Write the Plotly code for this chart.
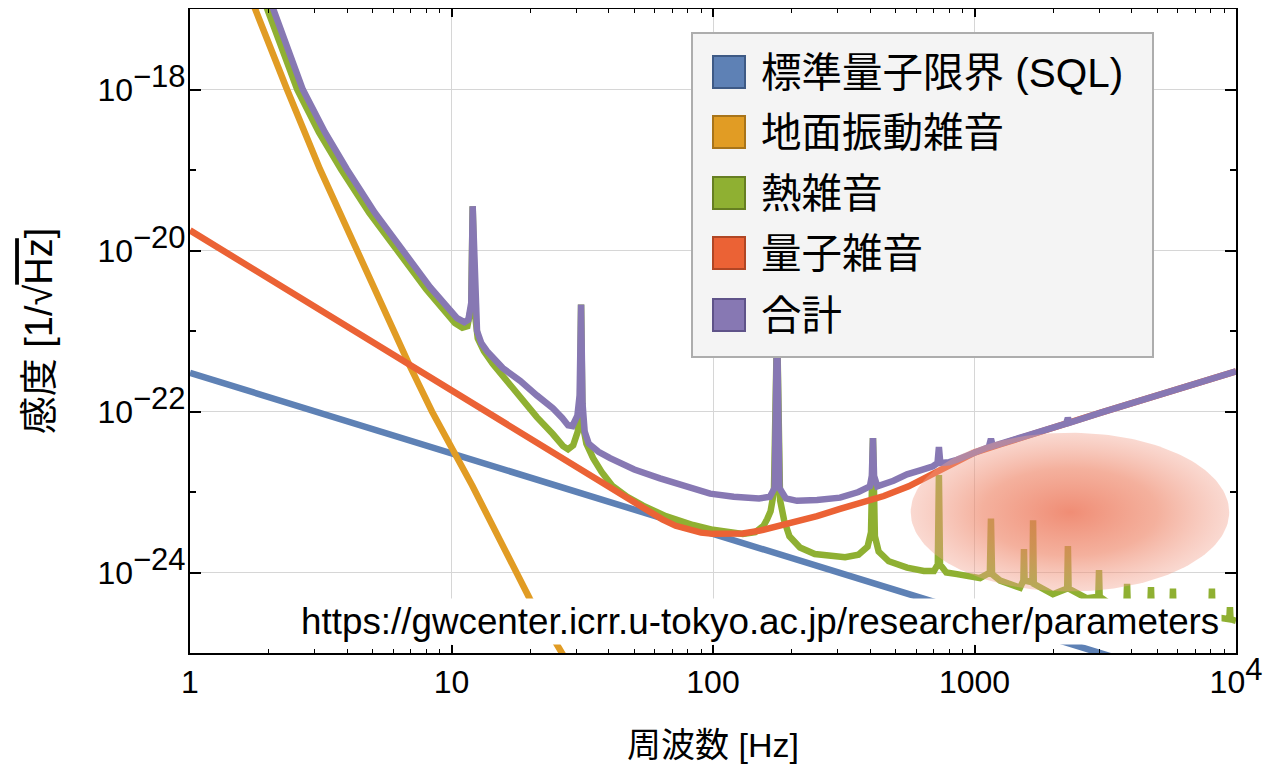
import numpy as np
import plotly.graph_objects as go

# ---------------- data ----------------
# Standard quantum limit (SQL)
sql_freq = [1, 10000]
sql_log10 = [-21.52, -25.52]

# Ground (seismic) vibration noise
seismic_freq = [1.5, 1.77, 2.35, 3.14, 4.35, 6.94, 8.42, 12.0, 19.95, 26.7, 30]
seismic_log10 = [-16.4, -17.0, -18.0, -18.99, -20.01, -21.44, -22.0, -22.92, -24.33, -25.0, -25.3]

# Thermal noise
thermal_freq = [1.8, 1.97, 2.25, 2.57, 3.11, 3.78, 4.84, 6.19, 8.0, 10.3, 11.0, 11.5, 11.9, 12.05, 12.3,
                12.6, 13.3, 14.4, 16.2, 18.3, 21.2, 24.4, 26.7, 27.9, 29.2, 30.4, 31.0, 31.3, 31.7,
                32.8, 34.8, 37.5, 41.1, 47, 54, 66, 83.8, 100, 113, 130, 145, 156, 161, 166, 171,
                175.8, 180.5, 187, 196, 215, 245, 280, 320, 360, 390, 402, 409, 416, 430, 470,
                552, 640, 700, 724, 731, 738, 780, 857, 1050, 1145, 1156, 1167, 1253, 1493,
                1538, 1546, 1554, 1665, 1675, 1685, 1995, 2262, 2276, 2290, 2692, 2975, 2993,
                3010, 3296, 3810, 3832, 3855, 4700, 4730, 4760, 5710, 5740, 5770, 8040, 8090,
                8140, 9430, 9480, 9530, 10000]
thermal_log10 = [-16.65, -17.0, -17.54, -18.0, -18.53, -18.99, -19.53, -20.01, -20.48, -20.90, -20.96, -20.94, -20.7, -19.45, -20.8,
                 -21.09, -21.25, -21.41, -21.62, -21.83, -22.07, -22.28, -22.43, -22.47, -22.42, -22.25, -22.0, -20.67, -22.15,
                 -22.40, -22.58, -22.75, -22.92, -23.06, -23.17, -23.30, -23.41, -23.47, -23.50, -23.52, -23.50, -23.42, -23.34, -23.24, -23.0,
                 -20.9, -23.1, -23.35, -23.55, -23.69, -23.77, -23.80, -23.81, -23.78, -23.68, -23.5, -22.33, -23.55, -23.74, -23.86,
                 -23.94, -23.98, -23.98, -23.9, -22.79, -23.9, -24.0, -24.02, -24.07, -24.0, -23.33, -24.02, -24.10, -24.19,
                 -24.1, -23.71, -24.1, -24.12, -23.35, -24.14, -24.27, -24.2, -23.67, -24.2, -24.32, -24.3, -23.97,
                 -24.3, -24.39, -24.4, -24.14, -24.4, -24.45, -24.18, -24.45, -24.48, -24.20, -24.48, -24.55, -24.20,
                 -24.55, -24.58, -24.43, -24.58, -24.60]

# Quantum noise
quantum_freq = [1, 10, 20, 30, 40, 48, 56, 64, 72, 80, 90, 100, 115, 130, 151, 175, 200,
                250, 306, 370, 450, 560, 719, 850, 1000, 1250, 1588, 2240, 3000, 10000]
quantum_log10 = [-19.75, -21.75, -22.35, -22.70, -22.95, -23.11, -23.24, -23.34, -23.42, -23.47, -23.505, -23.52,
                 -23.525, -23.515, -23.48, -23.43, -23.38, -23.30, -23.21, -23.13, -23.05, -22.93, -22.75, -22.62,
                 -22.51, -22.41, -22.30, -22.15, -22.02, -21.50]

# Total
total_freq = [1.9, 2.08, 2.37, 2.70, 3.28, 3.98, 5.09, 6.52, 8.28, 10.5, 11.2, 11.6, 11.9, 12.05, 12.3,
              12.52, 13.0, 13.67, 15.7, 18.3, 21.2, 24.4, 26.5, 27.9, 29.0, 30.3, 30.9, 31.3, 31.7,
              32.3, 33.5, 36.5, 40.4, 50, 62.7, 78, 97.5, 120, 150, 165, 172, 175.8, 179.5, 190,
              209.5, 250, 306, 360, 398, 405, 409, 413, 425, 490, 552, 620, 694, 722, 731, 740,
              800, 857, 1000, 1135, 1156, 1175, 1588, 2240, 2276, 2310, 3000, 10000]
total_log10 = [-16.65, -17.0, -17.54, -18.0, -18.53, -18.99, -19.53, -20.01, -20.455, -20.84, -20.89, -20.86, -20.65, -19.45, -20.75,
               -21.0, -21.15, -21.25, -21.46, -21.62, -21.80, -21.96, -22.08, -22.17, -22.18, -22.05, -21.8, -20.67, -21.9,
               -22.25, -22.40, -22.50, -22.58, -22.72, -22.83, -22.93, -23.02, -23.06, -23.08, -23.06, -22.95, -20.9, -22.95, -23.08,
               -23.11, -23.10, -23.07, -23.0, -22.93, -22.8, -22.33, -22.8, -22.93, -22.86, -22.78, -22.73, -22.68, -22.64, -22.44, -22.64,
               -22.63, -22.60, -22.50, -22.44, -22.34, -22.43, -22.30, -22.15, -22.08, -22.14, -22.02, -21.50]

series_names = ["標準量子限界 (SQL)", "地面振動雑音", "熱雑音", "量子雑音", "合計"]
series_colors = ["#5E81B5", "#E19C24", "#8FB032", "#EB6235", "#8778B3"]
swatch_borders = ["#3E5A85", "#A8741A", "#667E22", "#B04624", "#5F5389"]

SUP = '<sup><span style="font-size:31px">{}</span></sup>'
x_tickvals = [1, 10, 100, 1000, 10000]
x_ticktext = ["1", "10", "100", "1000", "10" + SUP.format("4")]
y_tickvals = [1e-24, 1e-22, 1e-20, 1e-18]
y_ticktext = ["10" + SUP.format("−24"), "10" + SUP.format("−22"),
              "10" + SUP.format("−20"), "10" + SUP.format("−18")]
y_minorvals = [1e-25, 1e-23, 1e-21, 1e-19, 1e-17]
x_minorvals = [m * 10 ** d for d in range(4) for m in range(2, 10)]

source_text = "https://gwcenter.icrr.u-tokyo.ac.jp/researcher/parameters"

# highlighted region (ellipse): centre and half-axes in log10 units
ell_cx, ell_cy = 3.365, -23.25
ell_rx, ell_ry = 0.609, 0.986

FONT = "Liberation Sans, Arial, Noto Sans CJK JP, sans-serif"

# ---------------- layout geometry ----------------
# The page body has an 8 px margin, so the figure is shifted to match.
OFF = 8
W, H = 1281 - OFF, 764 - OFF
PLOT_L, PLOT_R, PLOT_T, PLOT_B = 190, 1236, 9, 653   # on-screen plot box
L, R = PLOT_L - OFF, W - (PLOT_R - OFF)
T, B = PLOT_T - OFF, H - (PLOT_B - OFF)
PW, PH = PLOT_R - PLOT_L, PLOT_B - PLOT_T


def px_x(px):
    return (px - PLOT_L) / PW


def px_y(py):
    return (PLOT_B - py) / PH


fig = go.Figure()

series = [
    (sql_freq, sql_log10),
    (seismic_freq, seismic_log10),
    (thermal_freq, thermal_log10),
    (quantum_freq, quantum_log10),
    (total_freq, total_log10),
]
for (fx, ly), name, col in zip(series, series_names, series_colors):
    fig.add_trace(go.Scatter(
        x=fx, y=[10 ** v for v in ly], mode="lines", name=name,
        line=dict(color=col, width=6.5), showlegend=False, hoverinfo="skip"))

# gradient ellipse highlight
t = np.linspace(0, 2 * np.pi, 181)
fig.add_trace(go.Scatter(
    x=10 ** (ell_cx + ell_rx * np.cos(t)), y=10 ** (ell_cy + ell_ry * np.sin(t)),
    mode="lines", fill="toself", line=dict(width=0),
    fillgradient=dict(type="radial", colorscale=[
        [0.0, "rgba(236,112,82,0.80)"],
        [0.55, "rgba(238,132,102,0.64)"],
        [1.0, "rgba(242,160,140,0.40)"]]),
    showlegend=False, hoverinfo="skip"))

shapes = []
annotations = []

# legend drawn as a box with square swatches
shapes.append(dict(type="rect", xref="paper", yref="paper",
                   x0=px_x(692), x1=px_x(1153), y0=px_y(357), y1=px_y(33),
                   fillcolor="#F4F4F4", line=dict(color="#ADADAD", width=2), layer="above"))
row_y = [72, 132, 193, 253, 315]
for name, col, bcol, yc in zip(series_names, series_colors, swatch_borders, row_y):
    shapes.append(dict(type="rect", xref="paper", yref="paper",
                       x0=px_x(713), x1=px_x(745), y0=px_y(yc + 16), y1=px_y(yc - 16),
                       fillcolor=col, line=dict(color=bcol, width=2), layer="above"))
    annotations.append(dict(xref="paper", yref="paper", x=px_x(759), y=px_y(yc + 1),
                            xanchor="left", yanchor="middle", text=name, showarrow=False,
                            font=dict(size=40.5, family=FONT, color="black")))

# source URL with white box
annotations.append(dict(xref="paper", yref="paper", x=px_x(1222), y=px_y(598),
                        xanchor="right", yanchor="top", text=source_text, showarrow=False,
                        bgcolor="white", borderpad=2,
                        font=dict(size=36.8, family=FONT, color="black")))

fig.update_layout(
    width=W, height=H,
    margin=dict(l=L, r=R, t=T, b=B, autoexpand=False),
    plot_bgcolor="white", paper_bgcolor="white",
    font=dict(family=FONT, color="black", size=32),
    showlegend=False,
    shapes=shapes, annotations=annotations,
)

fig.update_xaxes(
    type="log", range=[0, 4], automargin=False,
    tickvals=x_tickvals, ticktext=x_ticktext,
    ticks="inside", ticklen=8, tickwidth=1.5, tickcolor="black",
    showline=True, linecolor="black", linewidth=2, mirror="allticks",
    showgrid=True, gridcolor="#D6D6D6", gridwidth=1, zeroline=False,
    minor=dict(tickvals=x_minorvals, ticks="inside", ticklen=4, tickwidth=1.2,
               tickcolor="black", showgrid=False),
    tickfont=dict(size=32, family=FONT),
    title=dict(text="周波数 [Hz]", font=dict(size=34, family=FONT), standoff=40),
)
fig.update_yaxes(
    type="log", range=[-25, -17], automargin=False,
    tickvals=y_tickvals, ticktext=y_ticktext,
    ticks="inside", ticklen=11, tickwidth=1.5, tickcolor="black",
    showline=True, linecolor="black", linewidth=2, mirror="allticks",
    showgrid=True, gridcolor="#D6D6D6", gridwidth=1, zeroline=False,
    minor=dict(tickvals=y_minorvals, ticks="inside", ticklen=6, tickwidth=1.5,
               tickcolor="black", showgrid=False),
    tickfont=dict(size=32, family=FONT),
    ticklabelstandoff=-4,
    title=dict(text='感度 [1/√<span style="text-decoration:overline">Hz</span>]',
               font=dict(size=38, family=FONT), standoff=33),
)

fig.write_html("out.html")
